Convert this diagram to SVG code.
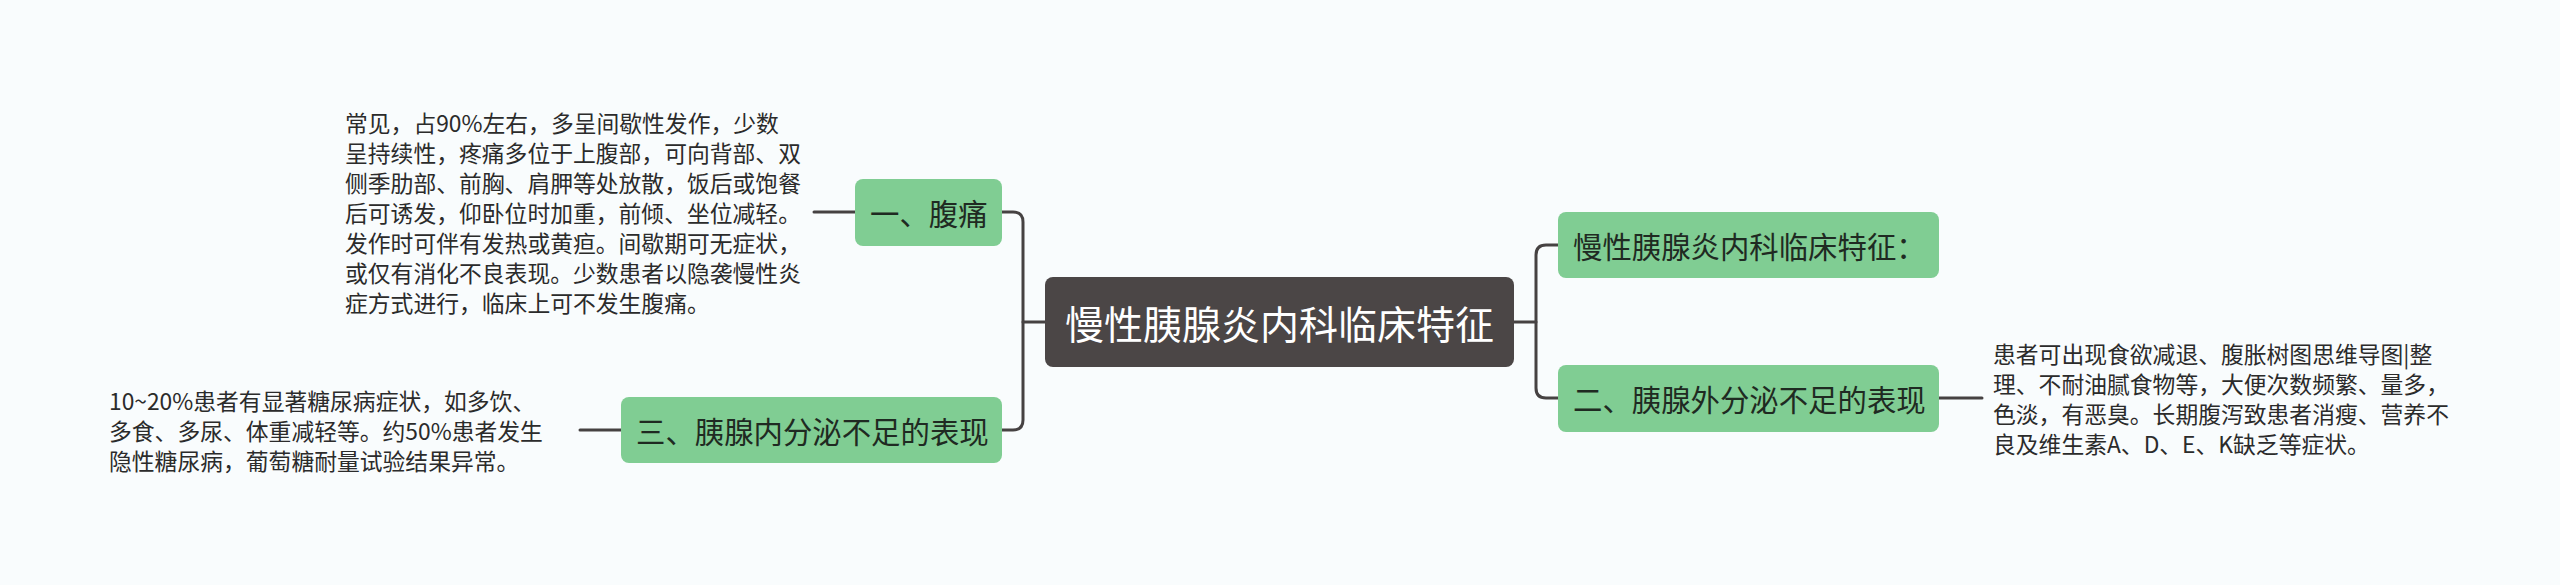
<svg xmlns="http://www.w3.org/2000/svg" width="2560" height="585" viewBox="0 0 2560 585">
<style>
.bg{fill:#F9FCFD}
.sub{fill:#80CD93}
.root{fill:#4B4646}
.nt{font-family:"Noto Sans CJK SC","Noto Sans",sans-serif;font-size:29.4px;fill:#1F2A22;dominant-baseline:central}
.rt{font-family:"Noto Sans CJK SC","Noto Sans",sans-serif;font-size:39px;fill:#FFFFFF;dominant-baseline:central}
.lt{font-family:"Noto Sans CJK SC","Noto Sans",sans-serif;font-size:22.8px;fill:#2B2B2B;dominant-baseline:central}
.ln{fill:none;stroke:#464242;stroke-width:3;stroke-linecap:round}
</style>
<rect class="bg" x="0" y="0" width="2560" height="585"/>
<g id="connectors">
<path class="ln" d="M1045,322 H1023"/>
<path class="ln" d="M1002,212 H1013 Q1023,212 1023,222 V420 Q1023,430 1013,430 H1002"/>
<path class="ln" d="M1514,322 H1536"/>
<path class="ln" d="M1558,245 H1546 Q1536,245 1536,255 V388 Q1536,398 1546,398 H1558"/>
<path class="ln" d="M814,212 H855"/>
<path class="ln" d="M580,430 H621"/>
<path class="ln" d="M1939,398 H1982"/>
</g>
<g id="root">
<rect class="root" x="1045" y="277" width="469" height="90" rx="8"/>
<text class="rt" x="1065" y="322">慢性胰腺炎内科临床特征</text>
</g>
<g id="n1">
<rect class="sub" x="855" y="179" width="147" height="67" rx="8"/>
<text class="nt" x="870" y="212">一、腹痛</text>
</g>
<g id="n3">
<rect class="sub" x="621" y="397" width="381" height="66" rx="8"/>
<text class="nt" x="636" y="430">三、胰腺内分泌不足的表现</text>
</g>
<g id="n0">
<rect class="sub" x="1558" y="212" width="381" height="66" rx="8"/>
<text class="nt" x="1573" y="245">慢性胰腺炎内科临床特征：</text>
</g>
<g id="n2">
<rect class="sub" x="1558" y="365" width="381" height="67" rx="8"/>
<text class="nt" x="1573" y="398">二、胰腺外分泌不足的表现</text>
</g>
<g id="leaf1">
<text class="lt" x="345" y="122">常见，占90%左右，多呈间歇性发作，少数</text>
<text class="lt" x="345" y="152">呈持续性，疼痛多位于上腹部，可向背部、双</text>
<text class="lt" x="345" y="182">侧季肋部、前胸、肩胛等处放散，饭后或饱餐</text>
<text class="lt" x="345" y="212">后可诱发，仰卧位时加重，前倾、坐位减轻。</text>
<text class="lt" x="345" y="242">发作时可伴有发热或黄疸。间歇期可无症状，</text>
<text class="lt" x="345" y="272">或仅有消化不良表现。少数患者以隐袭慢性炎</text>
<text class="lt" x="345" y="302">症方式进行，临床上可不发生腹痛。</text>
</g>
<g id="leaf3">
<text class="lt" x="109" y="400">10~20%患者有显著糖尿病症状，如多饮、</text>
<text class="lt" x="109" y="430">多食、多尿、体重减轻等。约50%患者发生</text>
<text class="lt" x="109" y="460">隐性糖尿病，葡萄糖耐量试验结果异常。</text>
</g>
<g id="leaf2">
<text class="lt" x="1993" y="353">患者可出现食欲减退、腹胀树图思维导图|整</text>
<text class="lt" x="1993" y="383">理、不耐油腻食物等，大便次数频繁、量多，</text>
<text class="lt" x="1993" y="413">色淡，有恶臭。长期腹泻致患者消瘦、营养不</text>
<text class="lt" x="1993" y="443">良及维生素A、D、E、K缺乏等症状。</text>
</g>
</svg>
